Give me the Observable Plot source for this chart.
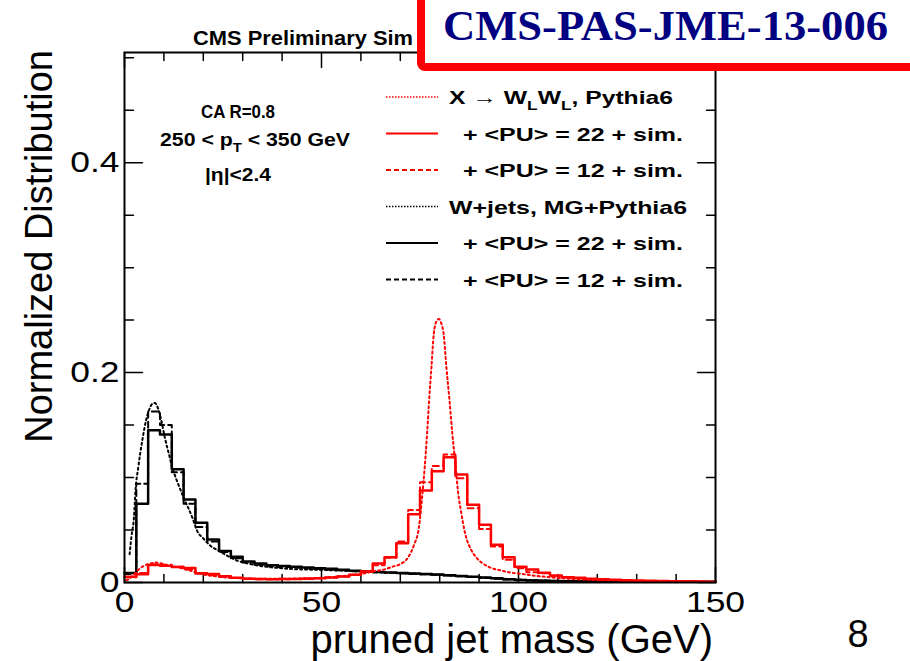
<!DOCTYPE html>
<html><head><meta charset="utf-8">
<script src="https://cdn.jsdelivr.net/npm/d3@7"></script>
<script src="https://cdn.jsdelivr.net/npm/@observablehq/plot@0.6"></script>
<style>body{margin:0;background:#fff;} #chart{width:910px;height:661px;}</style>
</head><body><div id="chart"></div>
<script>
// ---- data (pruned jet mass, 3 GeV bins from 0 to 150) ----
const binWidth = 3;
const xMajor = [0, 50, 100, 150];
const xMinor = [10, 20, 30, 40, 60, 70, 80, 90, 110, 120, 130, 140];
const yMajor = [0, 0.2, 0.4];
const yMinor = [0.05, 0.1, 0.15, 0.25, 0.3, 0.35, 0.45, 0.5];
const yMax = 0.505;

// W+jets, <PU> = 22 + sim. (black solid)
const wjetsPU22 = [0.009, 0.075, 0.145, 0.141, 0.108, 0.079, 0.057, 0.041, 0.030, 0.0245,
  0.020, 0.018, 0.0165, 0.0158, 0.015, 0.0143, 0.0136, 0.013, 0.0122, 0.0112,
  0.0106, 0.010, 0.0095, 0.009, 0.0086, 0.008, 0.0076, 0.007, 0.0062, 0.0055,
  0.0047, 0.004, 0.0031, 0.0025, 0.002, 0.0017, 0.0014, 0.0013, 0.0012, 0.0012,
  0.0011, 0.0011, 0.001, 0.001, 0.0009, 0.0009, 0.0008, 0.0008, 0.0007, 0.0007];
// W+jets, <PU> = 12 + sim. (black dashed)
const wjetsPU12 = [0.008, 0.094, 0.163, 0.150, 0.105, 0.075, 0.053, 0.039, 0.029, 0.023,
  0.019, 0.017, 0.0155, 0.0148, 0.014, 0.0134, 0.0128, 0.0122, 0.0116, 0.0108,
  0.0102, 0.0097, 0.0092, 0.0087, 0.0083, 0.0078, 0.0073, 0.0067, 0.006, 0.0052,
  0.0044, 0.0036, 0.0029, 0.0023, 0.0019, 0.0016, 0.0014, 0.0012, 0.0011, 0.001,
  0.001, 0.0009, 0.0009, 0.0008, 0.0008, 0.0007, 0.0007, 0.0006, 0.0006, 0.0006];
// X -> WLWL, <PU> = 22 + sim. (red solid)
const wwPU22 = [0.0055, 0.0078, 0.0167, 0.016, 0.0148, 0.0137, 0.0088, 0.008, 0.006, 0.0045,
  0.0035, 0.0033, 0.0032, 0.0033, 0.0034, 0.0036, 0.004, 0.0048, 0.0058, 0.0075,
  0.0105, 0.018, 0.024, 0.0375, 0.065, 0.0876, 0.106, 0.1194, 0.103, 0.074,
  0.055, 0.036, 0.024, 0.015, 0.0124, 0.0092, 0.0067, 0.0051, 0.0046, 0.0035,
  0.003, 0.0026, 0.0022, 0.0019, 0.0016, 0.0014, 0.0012, 0.001, 0.0009, 0.0008];
// X -> WLWL, <PU> = 12 + sim. (red dashed)
const wwPU12 = [0.005, 0.009, 0.0175, 0.017, 0.015, 0.0125, 0.0085, 0.0072, 0.0055, 0.0042,
  0.0035, 0.0032, 0.003, 0.0031, 0.0033, 0.0036, 0.004, 0.0047, 0.0057, 0.0075,
  0.0105, 0.0165, 0.0235, 0.039, 0.069, 0.0955, 0.111, 0.122, 0.0993, 0.0708,
  0.051, 0.0343, 0.0216, 0.0136, 0.0098, 0.0087, 0.0062, 0.0048, 0.004, 0.0032,
  0.0027, 0.0023, 0.002, 0.0017, 0.0015, 0.0013, 0.0011, 0.0009, 0.0008, 0.0007];

// fine-binned generator level curves (mass, value)
const wjetsGenMass = [1.3, 1.8, 2.4, 2.8, 3.5, 4.5, 5.5, 6.3, 7.0, 7.7, 8.5, 9.3, 10.3, 11.3, 12.1, 13.5, 15, 17.2, 18.4, 20, 21.8, 24, 26, 28.5, 31, 34, 37, 42, 50, 60, 70, 80, 90, 100, 110, 120, 135, 150];
const wjetsGenVal  = [0.027, 0.045, 0.062, 0.088, 0.11, 0.135, 0.155, 0.165, 0.170, 0.171, 0.166, 0.155, 0.137, 0.122, 0.110, 0.095, 0.081, 0.062, 0.0495, 0.042, 0.035, 0.030, 0.0257, 0.021, 0.0184, 0.016, 0.0146, 0.013, 0.012, 0.0105, 0.0088, 0.0072, 0.005, 0.0028, 0.0015, 0.0012, 0.0008, 0.0005];
const wwGenMass = [0.5, 2, 3.5, 5, 6.5, 8, 9.5, 11, 13, 15, 17, 19, 21, 24, 27, 30, 35, 40, 45, 50, 55, 60, 63, 66, 68, 70, 72, 73.5, 74.7, 75.5, 76.2, 76.8, 77.3, 77.9, 78.5, 79.2, 79.8, 80.4, 81, 81.7, 82.5, 83.2, 84, 84.7, 85.4, 86.5, 88, 89.5, 91, 93, 95.5, 98, 100.5, 104, 108, 113, 118, 125, 135, 145, 150];
const wwGenVal  = [0.002, 0.006, 0.012, 0.016, 0.018, 0.019, 0.018, 0.016, 0.015, 0.013, 0.011, 0.0085, 0.007, 0.0055, 0.0045, 0.004, 0.0035, 0.0035, 0.004, 0.0045, 0.006, 0.008, 0.0105, 0.0125, 0.015, 0.0175, 0.024, 0.036, 0.052, 0.08, 0.11, 0.142, 0.173, 0.205, 0.237, 0.249, 0.251, 0.247, 0.237, 0.205, 0.173, 0.142, 0.112, 0.085, 0.068, 0.046, 0.031, 0.023, 0.018, 0.014, 0.0115, 0.0095, 0.0083, 0.0065, 0.005, 0.0035, 0.0025, 0.0018, 0.0012, 0.0008, 0.0005];

const legendLabels = [
  [["X \u2192 W"], ["L", "sub"], ["W"], ["L", "sub"], [", Pythia6"]],
  [["+ <PU> = 22 + sim."]],
  [["+ <PU> = 12 + sim."]],
  [["W+jets, MG+Pythia6"]],
  [["+ <PU> = 22 + sim."]],
  [["+ <PU> = 12 + sim."]]
];
const legendStyles = [
  {color: "red", dash: "1.5,1.5", w: 1.5},
  {color: "red", dash: null, w: 2},
  {color: "red", dash: "5,3", w: 2},
  {color: "black", dash: "1.5,1.5", w: 1.5},
  {color: "black", dash: null, w: 2},
  {color: "black", dash: "5,3", w: 2}
];
const legendIndent = [0, 1, 1, 0, 1, 1];
const legendTextLen = [224, 220, 220, 238, 220, 220];

// ---- build ----
function hist(vals) {
  const pts = vals.map((v, i) => ({m: i * binWidth, v}));
  pts.push({m: vals.length * binWidth, v: vals[vals.length - 1]});
  return pts;
}
const curve = (ms, vs) => ms.map((m, i) => ({m, v: vs[i]}));

const tickShape = {draw(ctx, l) { ctx.moveTo(0, 0); ctx.lineTo(0, -l); }};
const tk = (data, o) => Plot.vector(data, {anchor: "start", shape: tickShape, stroke: "black", strokeWidth: 1.5, ...o});

const FONT = "'Liberation Sans', Arial, Helvetica, sans-serif";

const chart = Plot.plot({
  width: 910, height: 661,
  marginLeft: 124, marginRight: 195, marginTop: 52, marginBottom: 79,
  style: {fontFamily: FONT, background: "white", color: "black"},
  x: {domain: [0, 150]},
  y: {domain: [0, yMax]},
  marks: [
    // ticks (inward, ROOT style)
    tk(xMajor, {x: d => d, y: 0, length: 15, rotate: 0}),
    tk(xMinor, {x: d => d, y: 0, length: 8, rotate: 0}),
    tk(xMajor, {x: d => d, y: yMax, length: 15, rotate: 180}),
    tk(xMinor, {x: d => d, y: yMax, length: 8, rotate: 180}),
    tk(yMajor, {x: 0, y: d => d, length: 18, rotate: 90}),
    tk(yMinor, {x: 0, y: d => d, length: 9, rotate: 90}),
    tk(yMajor, {x: 150, y: d => d, length: 18, rotate: -90}),
    tk(yMinor, {x: 150, y: d => d, length: 9, rotate: -90}),
    Plot.axisX(xMajor, {tickSize: 0, tickPadding: 8, fontSize: 30, label: null, tickFormat: d => String(d)}),
    Plot.axisY(yMajor, {tickSize: 0, tickPadding: 5, fontSize: 30, label: null, tickFormat: d => d === 0 ? "0" : d.toFixed(1)}),
    // black
    Plot.line(curve(wjetsGenMass, wjetsGenVal), {x: "m", y: "v", curve: "monotone-x", stroke: "black", strokeWidth: 2, strokeDasharray: "2,3"}),
    Plot.line(hist(wjetsPU12), {x: "m", y: "v", curve: "step-after", stroke: "black", strokeWidth: 2, strokeDasharray: "6,4"}),
    Plot.line(hist(wjetsPU22), {x: "m", y: "v", curve: "step-after", stroke: "black", strokeWidth: 2.5}),
    // red
    Plot.line(curve(wwGenMass, wwGenVal), {x: "m", y: "v", curve: "monotone-x", stroke: "red", strokeWidth: 2, strokeDasharray: "2,3"}),
    Plot.line(hist(wwPU12), {x: "m", y: "v", curve: "step-after", stroke: "red", strokeWidth: 2, strokeDasharray: "6,4"}),
    Plot.line(hist(wwPU22), {x: "m", y: "v", curve: "step-after", stroke: "red", strokeWidth: 2.5}),
    Plot.frame({stroke: "black", strokeWidth: 2})
  ]
});
document.getElementById("chart").appendChild(chart);

const svg = d3.select(chart);
// the reference typesetting is horizontally wide: stretch the tick labels a little
svg.selectAll('g[aria-label="x-axis tick label"] text, g[aria-label="y-axis tick label"] text').each(function () {
  const w = this.getComputedTextLength();
  this.setAttribute("textLength", (w * 1.18).toFixed(1));
  this.setAttribute("lengthAdjust", "spacingAndGlyphs");
});

// ---- decorations ----
function richText(g, x, y, parts, attrs) {
  const t = g.append("text").attr("x", x).attr("y", y).attr("lengthAdjust", "spacingAndGlyphs");
  for (const k in attrs) t.attr(k, attrs[k]);
  let sub = false;
  for (const [s, kind] of parts) {
    const ts = t.append("tspan").text(s);
    if (kind === "sub") { ts.attr("dy", 6).attr("font-size", "0.7em"); sub = true; }
    else if (sub) { ts.attr("dy", -6); sub = false; }
  }
  return t;
}
const deco = svg.append("g").attr("font-family", FONT).attr("fill", "black").attr("text-anchor", "start");

// title (the rest of it is hidden by the stamp box in the reference)
deco.append("text").attr("x", 193).attr("y", 45).attr("font-size", 21).attr("font-weight", "bold")
  .attr("textLength", 220).attr("lengthAdjust", "spacingAndGlyphs").text("CMS Preliminary Sim");

// annotation
richText(deco, 238, 118, [["CA R=0.8"]], {"font-size": 18, "font-weight": "bold", "text-anchor": "middle", textLength: 74});
richText(deco, 255, 146, [["250 < p"], ["T", "sub"], [" < 350 GeV"]], {"font-size": 18, "font-weight": "bold", "text-anchor": "middle", textLength: 190});
richText(deco, 238, 181, [["|\u03b7|<2.4"]], {"font-size": 18, "font-weight": "bold", "text-anchor": "middle", textLength: 66});

// legend
const legY0 = 97, legDy = 36.5;
legendLabels.forEach((parts, i) => {
  const y = legY0 + i * legDy;
  const st = legendStyles[i];
  deco.append("line").attr("x1", 386).attr("x2", 438).attr("y1", y).attr("y2", y)
    .attr("stroke", st.color).attr("stroke-width", st.w).attr("stroke-dasharray", st.dash);
  richText(deco, legendIndent[i] ? 463 : 449, y + 7, parts, {"font-size": 19, "font-weight": "bold", textLength: legendTextLen[i]});
});

// axis titles
deco.append("text").attr("transform", "translate(52,50) rotate(-90)").attr("text-anchor", "end")
  .attr("font-size", 38).text("Normalized Distribution");
deco.append("text").attr("x", 713).attr("y", 653).attr("text-anchor", "end")
  .attr("font-size", 40).text("pruned jet mass (GeV)");

// page number
deco.append("text").attr("x", 858).attr("y", 647).attr("text-anchor", "middle").attr("font-size", 38).text("8");

// stamp box
svg.append("rect").attr("x", 421).attr("y", -10).attr("width", 520).attr("height", 77).attr("rx", 4)
  .attr("fill", "white").attr("stroke", "red").attr("stroke-width", 8);
svg.append("text").attr("x", 443).attr("y", 40).attr("text-anchor", "start").attr("font-family", "'Liberation Serif', 'Times New Roman', serif")
  .attr("font-weight", "bold").attr("font-size", 43).attr("fill", "#000080")
  .attr("textLength", 445).attr("lengthAdjust", "spacingAndGlyphs").text("CMS-PAS-JME-13-006");
</script>
</body></html>
